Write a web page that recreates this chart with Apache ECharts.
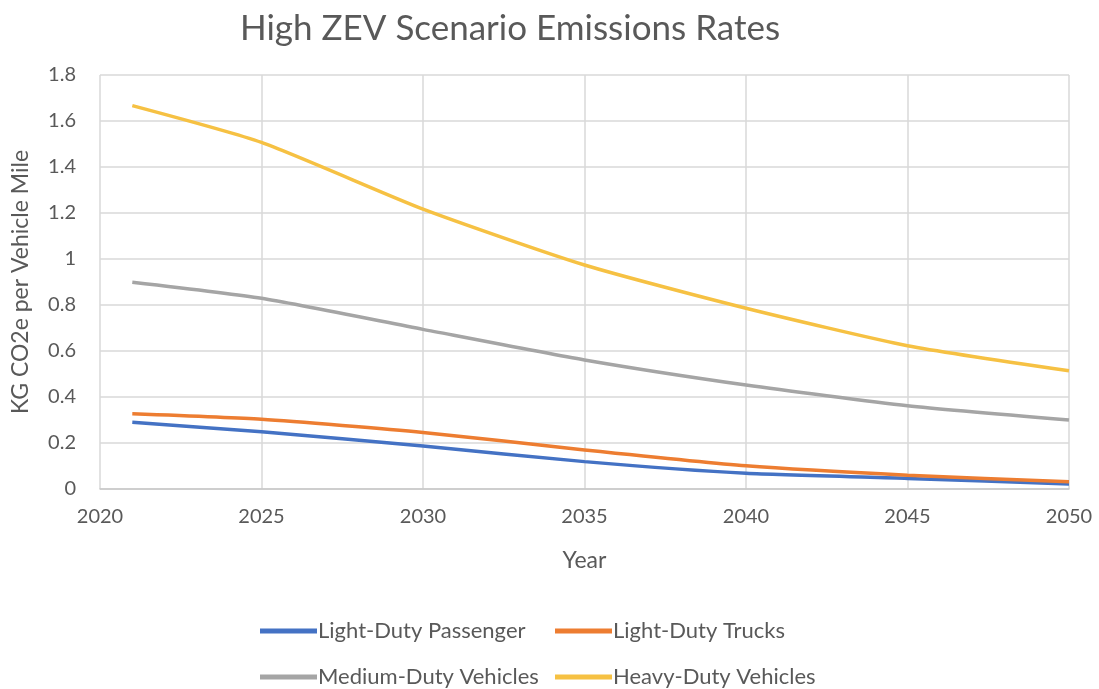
<!DOCTYPE html>
<html>
<head>
<meta charset="utf-8">
<title>High ZEV Scenario Emissions Rates</title>
<script src="https://cdn.jsdelivr.net/npm/echarts@6/dist/echarts.min.js"></script>
<style>
  html, body { margin: 0; padding: 0; background: #fff; }
  #chart { width: 1099px; height: 689px; }
</style>
</head>
<body>
<div id="chart"></div>
<script>
// data
const years = [2021, 2025, 2030, 2035, 2040, 2045, 2050];
const lightDutyPassenger = [0.29, 0.249, 0.187, 0.119, 0.068, 0.046, 0.022];
const lightDutyTrucks = [0.327, 0.303, 0.246, 0.17, 0.101, 0.06, 0.032];
const mediumDutyVehicles = [0.899, 0.829, 0.694, 0.561, 0.452, 0.362, 0.3];
const heavyDutyVehicles = [1.667, 1.507, 1.217, 0.974, 0.786, 0.623, 0.514];

const seriesNames = ['Light-Duty Passenger', 'Light-Duty Trucks', 'Medium-Duty Vehicles', 'Heavy-Duty Vehicles'];
const seriesValues = [lightDutyPassenger, lightDutyTrucks, mediumDutyVehicles, heavyDutyVehicles];
const colors = ['#4472C4', '#ED7D31', '#A5A5A5', '#F6C143'];

const FONT = 'Lato';
const TEXT = '#595959';

// one legend per item so the two columns line up like the Excel legend
const legendSpots = [
  { left: 260, top: 620 },
  { left: 555, top: 620 },
  { left: 260, top: 666 },
  { left: 555, top: 666 },
];

const option = {
  animation: false,
  color: colors,
  title: {
    text: 'High ZEV Scenario Emissions Rates',
    left: 505,
    textAlign: 'center',
    top: 6,
    textStyle: { color: TEXT, fontSize: 35, fontWeight: 'normal', fontFamily: FONT },
  },
  legend: seriesNames.map((name, i) => ({
    ...legendSpots[i],
    padding: 0,
    data: [name],
    itemWidth: 57,
    itemHeight: 5,
    icon: 'rect',
    textStyle: { color: TEXT, fontSize: 22, fontFamily: FONT, padding: [0, 0, 0, -4] },
  })),
  grid: { left: 100, right: 30, top: 75, bottom: 200 },
  xAxis: {
    type: 'value',
    min: 2020,
    max: 2050,
    interval: 5,
    name: 'Year',
    nameLocation: 'middle',
    nameGap: 60,
    nameTextStyle: { color: TEXT, fontSize: 23, fontFamily: FONT },
    axisLine: { show: true, lineStyle: { color: '#c8c8c8', width: 1.5 } },
    axisTick: { show: false },
    axisLabel: { color: TEXT, fontSize: 20, fontFamily: FONT, margin: 18, formatter: (v) => String(v) },
    splitLine: { show: true, lineStyle: { color: '#d9d9d9', width: 1.5 } },
  },
  yAxis: {
    type: 'value',
    min: 0,
    max: 1.8,
    interval: 0.2,
    name: 'KG CO2e per Vehicle Mile',
    nameLocation: 'middle',
    nameGap: 68,
    nameTextStyle: { color: TEXT, fontSize: 23, fontFamily: FONT },
    axisLine: { show: false },
    axisTick: { show: false },
    axisLabel: { color: TEXT, fontSize: 20, fontFamily: FONT, margin: 24 },
    splitLine: { show: true, lineStyle: { color: '#d9d9d9', width: 1.5 } },
  },
  series: seriesNames.map((name, i) => ({
    name,
    type: 'line',
    smooth: 0.2,
    symbol: 'none',
    lineStyle: { width: 3.5, color: colors[i] },
    data: years.map((y, j) => [y, seriesValues[i][j]]),
  })),
};

const myChart = echarts.init(document.getElementById('chart'));
myChart.setOption(option);
</script>
</body>
</html>
